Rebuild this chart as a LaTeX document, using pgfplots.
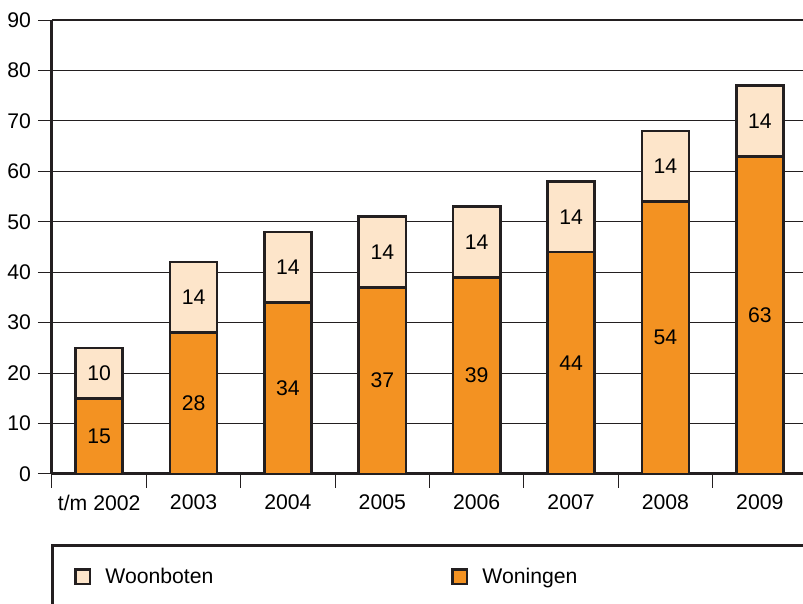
\documentclass[border=0pt]{standalone}
\usepackage{fontspec}
\setmainfont{Liberation Sans}
\usepackage{pgfplots}
\pgfplotsset{compat=1.18}

\definecolor{woning}{RGB}{243,146,34}
\definecolor{woonboot}{RGB}{253,229,202}
\definecolor{rand}{RGB}{35,31,32}

\pgfplotsset{
    sq legend/.style={legend image code/.code={
        \draw[##1] (0pt,-3.6pt) rectangle (7.2pt,3.6pt);}},
    segment label/.style={draw=none, forget plot, nodes near coords,
        point meta=explicit symbolic,
        every node near coord/.append style={anchor=center}},
}

\begin{document}
\begin{tikzpicture}[font=\fontsize{10.6pt}{12.5pt}\selectfont]
    \begin{axis}[
            scale only axis,
            width=377.5pt, height=227pt,
            xmin=-0.5, xmax=7.5,
            ymin=0, ymax=90,
            axis x line*=bottom, axis y line*=left,
            axis line style={-, line width=1.5pt, color=rand},
            ytick={0,10,...,90},
            xtick={0,...,7},
            xticklabels={t/m 2002,2003,2004,2005,2006,2007,2008,2009},
            minor xtick={-0.5,0.5,...,7.5},
            tick align=outside,
            major tick length=7pt, minor tick length=7pt,
            major x tick style={draw=none},
            minor x tick style={line width=0.5pt, color=rand},
            y tick style={line width=0.5pt, color=rand},
            ymajorgrids,
            major grid style={line width=0.6pt, color=rand},
            extra y ticks={90}, extra y tick labels={},
            extra y tick style={major grid style={line width=1.2pt, color=rand}, major tick length=0pt},
            /pgf/number format/assume math mode=true,
            legend columns=2,
            legend cell align=left,
            legend style={at={(0,0)}, anchor=west, xshift=11pt, yshift=-51.5pt,
                draw=none, fill=none, inner sep=0pt,
                /tikz/every odd column/.append style={column sep=5pt},
                /tikz/every even column/.append style={column sep=117pt}},
        ]
        % totaal = woningen + woonboten
        \addplot[ybar, bar width=0.5, bar shift=0pt, fill=woonboot, draw=rand, line width=1.3pt, sq legend]
            coordinates {(0,25) (1,42) (2,48) (3,51) (4,53) (5,58) (6,68) (7,77)};
        \addlegendentry{Woonboten}
        \addplot[ybar, bar width=0.5, bar shift=0pt, fill=woning, draw=rand, line width=1.3pt, sq legend]
            coordinates {(0,15) (1,28) (2,34) (3,37) (4,39) (5,44) (6,54) (7,63)};
        \addlegendentry{Woningen}
        % labels in het midden van elk segment
        \addplot[segment label] coordinates {
            (0,7.5)[15] (1,14)[28] (2,17)[34] (3,18.5)[37]
            (4,19.5)[39] (5,22)[44] (6,27)[54] (7,31.5)[63]};
        \addplot[segment label] coordinates {
            (0,20)[10] (1,35)[14] (2,41)[14] (3,44)[14]
            (4,46)[14] (5,51)[14] (6,61)[14] (7,70)[14]};
    \end{axis}
    \draw[line width=1.5pt, rand] (390pt,-36pt) -| (0pt,-80pt);
    \pgfresetboundingbox
    \useasboundingbox (-26pt,-65pt) rectangle (375.5pt,237pt);
\end{tikzpicture}
\end{document}
